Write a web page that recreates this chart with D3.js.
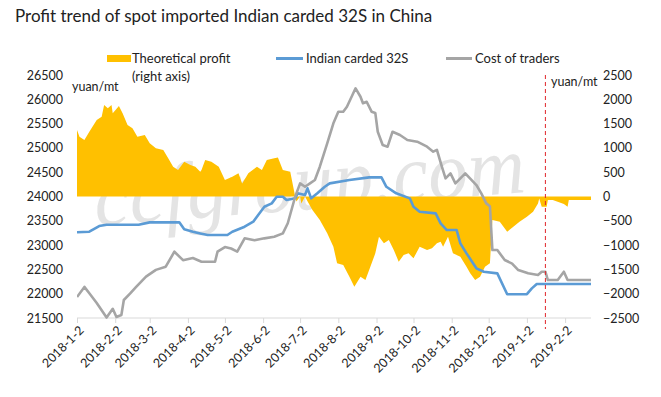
<!DOCTYPE html>
<html>
<head>
<meta charset="utf-8">
<script src="https://cdn.jsdelivr.net/npm/d3@7"></script>
<style>
  body { margin: 0; background: #fff; }
  svg text { font-family: Lato, "Open Sans", sans-serif; fill: #222; }
</style>
</head>
<body>
<svg id="canvas" width="661" height="397"></svg>
<script>
// ---- data ----
const profitData = [ // theoretical profit, yuan/mt (right axis)
  ["2018-01-02",1368],["2018-01-04",1230],["2018-01-08",1162],["2018-01-12",1333],["2018-01-18",1574],
  ["2018-01-22",1642],["2018-01-24",1883],["2018-01-27",1815],["2018-01-30",1883],["2018-01-31",1712],
  ["2018-02-05",1862],["2018-02-08",1712],["2018-02-12",1471],["2018-02-16",1403],["2018-02-20",1230],
  ["2018-02-26",1265],["2018-03-02",1094],["2018-03-07",991],["2018-03-13",955],["2018-03-17",786],
  ["2018-03-21",613],["2018-03-25",545],["2018-03-30",716],["2018-04-04",648],["2018-04-08",613],
  ["2018-04-12",510],["2018-04-13",545],["2018-04-16",750],["2018-04-21",716],["2018-04-27",613],
  ["2018-05-02",339],["2018-05-08",407],["2018-05-13",476],["2018-05-16",270],["2018-05-21",476],
  ["2018-05-28",613],["2018-06-01",545],["2018-06-05",750],["2018-06-11",786],["2018-06-14",800],
  ["2018-06-18",545],["2018-06-24",510],["2018-06-28",0],["2018-06-29",-103],["2018-07-02",0],
  ["2018-07-03",-142],["2018-07-06",0],["2018-07-08",-100],["2018-07-12",-278],["2018-07-18",-484],
  ["2018-07-24",-758],["2018-07-29",-1032],["2018-08-01",-1375],["2018-08-06",-1410],["2018-08-11",-1650],
  ["2018-08-15",-1855],["2018-08-20",-1650],["2018-08-24",-1719],["2018-08-28",-1444],["2018-09-01",-1170],
  ["2018-09-04",-827],["2018-09-08",-964],["2018-09-12",-895],["2018-09-16",-1101],["2018-09-20",-1341],
  ["2018-09-24",-1204],["2018-09-28",-1170],["2018-10-02",-1272],["2018-10-07",-1032],["2018-10-13",-1101],
  ["2018-10-17",-1066],["2018-10-21",-964],["2018-10-24",-930],["2018-10-26",-1032],["2018-10-30",-827],
  ["2018-11-03",-1170],["2018-11-09",-1238],["2018-11-14",-1444],["2018-11-17",-1581],["2018-11-21",-1719],
  ["2018-11-25",-1650],["2018-11-29",-1444],["2018-12-03",-1375],["2018-12-05",-484],["2018-12-11",-518],
  ["2018-12-17",-724],["2018-12-22",-621],["2018-12-27",-518],["2019-01-02",-415],["2019-01-07",-312],
  ["2019-01-11",-142],["2019-01-12",-40],["2019-01-14",-210],["2019-01-18",-210],["2019-01-19",-70],
  ["2019-01-23",-70],["2019-02-01",-155],["2019-02-04",-210],["2019-02-05",-70],["2019-02-23",-70]
];
const indianData = [ // Indian carded 32S, yuan/mt (left axis)
  ["2018-01-02",23263],["2018-01-12",23275],["2018-01-20",23392],["2018-01-26",23420],["2018-02-21",23420],
  ["2018-03-02",23468],["2018-03-26",23468],["2018-03-30",23324],["2018-04-06",23275],["2018-04-12",23240],
  ["2018-04-18",23207],["2018-05-04",23207],["2018-05-08",23275],["2018-05-18",23378],["2018-05-25",23481],
  ["2018-05-29",23619],["2018-06-03",23790],["2018-06-09",23859],["2018-06-13",23996],["2018-06-18",23996],
  ["2018-06-21",23927],["2018-06-28",23962],["2018-06-30",24065],["2018-07-06",24030],["2018-07-08",24168],
  ["2018-07-11",23962],["2018-07-16",24065],["2018-07-22",24200],["2018-07-26",24270],["2018-08-11",24339],
  ["2018-08-27",24394],["2018-09-06",24394],["2018-09-10",24200],["2018-09-18",24065],["2018-09-29",23962],
  ["2018-10-02",23790],["2018-10-07",23687],["2018-10-20",23653],["2018-10-24",23447],["2018-10-29",23310],
  ["2018-11-06",23310],["2018-11-09",23036],["2018-11-14",22830],["2018-11-22",22522],["2018-11-28",22452],
  ["2018-12-09",22419],["2018-12-17",21990],["2019-01-02",21990],["2019-01-06",22110],["2019-01-10",22199],
  ["2019-02-23",22199]
];
const costData = [ // cost of traders, yuan/mt (left axis)
  ["2018-01-02",21930],["2018-01-08",22140],["2018-01-12",22010],["2018-01-18",21810],["2018-01-26",21510],
  ["2018-01-31",21690],["2018-02-03",21520],["2018-02-07",21560],["2018-02-09",21870],["2018-02-14",22000],
  ["2018-02-19",22140],["2018-02-27",22350],["2018-03-07",22490],["2018-03-15",22555],["2018-03-22",22864],
  ["2018-03-29",22690],["2018-04-06",22734],["2018-04-13",22658],["2018-04-24",22658],["2018-04-26",22864],
  ["2018-05-02",22960],["2018-05-07",22930],["2018-05-12",22864],["2018-05-18",23139],["2018-05-26",23100],
  ["2018-06-03",23139],["2018-06-11",23173],["2018-06-18",23242],["2018-06-22",23450],["2018-06-28",23995],
  ["2018-07-02",24270],["2018-07-06",24200],["2018-07-10",24270],["2018-07-14",24340],["2018-07-18",24613],
  ["2018-07-24",25094],["2018-07-29",25506],["2018-08-02",25745],["2018-08-06",25745],["2018-08-09",25848],
  ["2018-08-16",26226],["2018-08-20",26053],["2018-08-22",25920],["2018-08-25",25950],["2018-08-29",25745],
  ["2018-09-01",25720],["2018-09-03",25333],["2018-09-07",25059],["2018-09-11",25025],["2018-09-15",25333],
  ["2018-09-21",25265],["2018-09-27",25162],["2018-10-05",25128],["2018-10-13",25025],["2018-10-18",24922],
  ["2018-10-21",24960],["2018-10-25",24613],["2018-10-28",24374],["2018-11-01",24477],["2018-11-05",24271],
  ["2018-11-13",24477],["2018-11-22",24236],["2018-11-26",24065],["2018-11-30",23859],["2018-12-03",23800],
  ["2018-12-05",22898],["2018-12-09",22898],["2018-12-15",22693],["2018-12-21",22620],["2018-12-26",22487],
  ["2019-01-03",22419],["2019-01-11",22384],["2019-01-14",22452],["2019-01-17",22452],["2019-01-19",22281],
  ["2019-01-27",22281],["2019-02-01",22452],["2019-02-04",22281],["2019-02-23",22281]
];
const xTicks = ["2018-1-2","2018-2-2","2018-3-2","2018-4-2","2018-5-2","2018-6-2","2018-7-2",
  "2018-8-2","2018-9-2","2018-10-2","2018-11-2","2018-12-2","2019-1-2","2019-2-2"];
const leftTicks = [21500,22000,22500,23000,23500,24000,24500,25000,25500,26000,26500];
const rightTicks = [-2500,-2000,-1500,-1000,-500,0,500,1000,1500,2000,2500];
const markerDate = "2019-01-17";
const xDomain = ["2018-01-02","2019-02-23"];
const seriesNames = ["Theoretical profit", "Indian carded 32S", "Cost of traders"];
const titleText = "Profit trend of spot imported Indian carded 32S in China";

// ---- setup ----
const parse = d3.timeParse("%Y-%m-%d");
const parseTick = d3.timeParse("%Y-%-m-%-d");
const toPts = arr => arr.map(([d, v]) => ({ date: parse(d), v }));

const plot = { left: 77, right: 591, top: 75, bottom: 318 };
const svg = d3.select("#canvas");

const x = d3.scaleTime().domain(xDomain.map(parse)).range([plot.left, plot.right]);
const yL = d3.scaleLinear().domain([21500, 26500]).range([plot.bottom, plot.top]);
const yR = d3.scaleLinear().domain([-2500, 2500]).range([plot.bottom, plot.top]);

svg.append("defs").append("clipPath").attr("id", "clip")
  .append("rect").attr("x", plot.left).attr("y", plot.top - 2)
  .attr("width", plot.right - plot.left + 2).attr("height", plot.bottom - plot.top + 4);

// title
svg.append("text").attr("x", 15).attr("y", 22)
  .style("font-size", "17px").text(titleText);

// watermark, sits behind the series
svg.append("text").attr("x", 96).attr("y", 226)
  .attr("transform", "rotate(-4.5,96,226)")
  .attr("textLength", 432).attr("lengthAdjust", "spacingAndGlyphs")
  .style("font-family", "'Liberation Serif', serif").style("font-style", "italic")
  .style("font-size", "82px").style("fill", "#e4e4e4")
  .text("ccfgroup.com");

// left axis labels (no line)
const gL = svg.append("g").attr("transform", `translate(${plot.left},0)`)
  .call(d3.axisLeft(yL).tickValues(leftTicks).tickSize(0).tickPadding(14).tickFormat(d3.format("d")));
gL.select(".domain").remove();
gL.selectAll("text").style("font-size", "12.5px").style("font-family", "Lato, sans-serif").attr("fill", "#222");

// right axis labels
const gR = svg.append("g").attr("transform", `translate(${plot.right},0)`)
  .call(d3.axisRight(yR).tickValues(rightTicks).tickSize(0).tickPadding(12).tickFormat(d3.format("d")));
gR.select(".domain").remove();
gR.selectAll("text").style("font-size", "12.5px").style("font-family", "Lato, sans-serif").attr("fill", "#222");

// bottom axis
const gX = svg.append("g").attr("transform", `translate(0,${plot.bottom})`)
  .call(d3.axisBottom(x).tickValues(xTicks.map(parseTick)).tickSize(5)
    .tickFormat(d => `${d.getFullYear()}-${d.getMonth() + 1}-${d.getDate()}`));
gX.select(".domain").attr("stroke", "#d9d9d9").attr("d", `M${plot.left},0H${plot.right}`);
gX.selectAll(".tick line").attr("stroke", "#d9d9d9");
gX.selectAll("text")
  .style("font-size", "12.5px").style("font-family", "Lato, sans-serif").attr("fill", "#222")
  .attr("text-anchor", "end").attr("dy", "0.35em")
  .attr("transform", "translate(4,10) rotate(-45)").attr("y", 0).attr("x", 0);

// unit labels
svg.append("text").attr("x", 72).attr("y", 91).style("font-size", "12.5px").text("yuan/mt");
svg.append("text").attr("x", 551).attr("y", 86).style("font-size", "12.5px").text("yuan/mt");

// series
const chart = svg.append("g").attr("clip-path", "url(#clip)");

chart.append("path").datum(toPts(profitData))
  .attr("fill", "#FFC000")
  .attr("d", d3.area().x(d => x(d.date)).y0(yR(0)).y1(d => yR(d.v)));

const line = d3.line().x(d => x(d.date)).y(d => yL(d.v));
chart.append("path").datum(toPts(indianData))
  .attr("fill", "none").attr("stroke", "#5B9BD5").attr("stroke-width", 2.6)
  .attr("stroke-linejoin", "round").attr("d", line);
chart.append("path").datum(toPts(costData))
  .attr("fill", "none").attr("stroke", "#A5A5A5").attr("stroke-width", 2.6)
  .attr("stroke-linejoin", "round").attr("d", line);

// red dashed marker
const mx = x(parse(markerDate));
svg.append("line").attr("x1", mx).attr("x2", mx).attr("y1", plot.top).attr("y2", 329)
  .attr("stroke", "#E0262B").attr("stroke-width", 1).attr("stroke-dasharray", "4,3");

// legend
const lg = svg.append("g").style("font-size", "13px");
lg.append("rect").attr("x", 107).attr("y", 55).attr("width", 24).attr("height", 7).attr("fill", "#FFC000");
lg.append("text").attr("x", 132).attr("y", 63).text(seriesNames[0]);
lg.append("text").attr("x", 132).attr("y", 81).text("(right axis)");
lg.append("line").attr("x1", 276).attr("x2", 303).attr("y1", 58.5).attr("y2", 58.5)
  .attr("stroke", "#5B9BD5").attr("stroke-width", 3);
lg.append("text").attr("x", 306).attr("y", 63).text(seriesNames[1]);
lg.append("line").attr("x1", 446).attr("x2", 472).attr("y1", 58.5).attr("y2", 58.5)
  .attr("stroke", "#A5A5A5").attr("stroke-width", 3);
lg.append("text").attr("x", 475).attr("y", 63).text(seriesNames[2]);
</script>
</body>
</html>
